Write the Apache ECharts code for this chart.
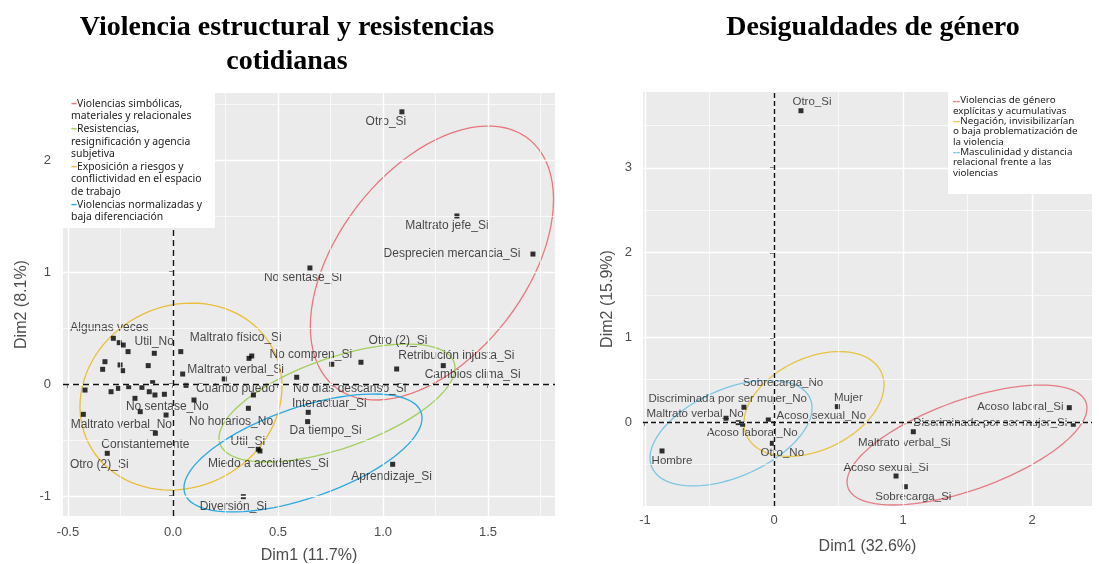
<!DOCTYPE html>
<html>
<head>
<meta charset="utf-8">
<script src="https://cdn.jsdelivr.net/npm/echarts@6/dist/echarts.min.js"></script>
<style>
html, body { margin: 0; padding: 0; background: #fff; }
#chart { width: 1099px; height: 564px; }
</style>
</head>
<body>
<div id="chart"></div>
<script>
// ---- panel 1: Violencia estructural y resistencias cotidianas ----
const leftNames = [
    'Otro_Si', 'Maltrato jefe_Si', 'Desprecien mercancia_Si', 'No sentase_Si',
    'Algunas veces', 'Util_No', 'Maltrato físico_Si', 'No compren_Si', 'Otro (2)_Si',
    'Retribución injusta_Si', 'Maltrato verbal_Si', 'Cambios clima_Si', 'Cuándo puedo',
    'No días descanso_Si', 'Interactuar_Si', 'No sentase_No', 'No horarios_No',
    'Maltrato verbal_No', 'Da tiempo_Si', 'Util_Si', 'Constantemente',
    'Miedo a accidentes_Si', 'Otro (2)_Si', 'Aprendizaje_Si', 'Diversión_Si',
    '', '', '', '', '', '', '', '', '', '', '', '', '', '', '', '', '', '', '', '', '', '', '', ''
];
const leftX = [
    1.09, 1.352, 1.714, 0.652,
    -0.284, -0.237, 0.375, 0.756, 0.895,
    1.287, 0.046, 1.065, 0.383,
    0.589, 0.644, -0.156, -0.033,
    -0.427, 0.641, 0.414, -0.084,
    0.406, -0.313, 1.046, 0.335,
    -0.256, -0.214, -0.089, 0.037, -0.324, -0.252, -0.335, -0.24, -0.118, 0.244, -0.097, 0.062,
    -0.419, -0.295, -0.26, -0.211, -0.148, -0.113, -0.086, -0.041, -0.181, 0.1, 0.359, 0.362
];
const leftY = [
    2.43, 1.50, 1.16, 1.036,
    0.408, 0.348, 0.25, 0.176, 0.194,
    0.164, 0.089, 0.134, -0.098,
    0.06, -0.253, -0.247, -0.277,
    -0.271, -0.336, -0.598, -0.44,
    -0.583, -0.619, -0.717, -1.006,
    0.369, 0.289, 0.274, 0.289, 0.199, 0.17, 0.131, 0.119, 0.164, 0.045, 0.012, -0.012,
    -0.054, -0.069, -0.039, -0.024, -0.03, -0.069, -0.098, -0.092, -0.128, -0.143, -0.217, 0.229
];
// where each text sits relative to its point (px)
const leftLabelOffsets = [
    [-16, 10], [-10, 10], [-81, 0], [-7, 10],
    [-4, -11], [31, -3], [-16, -18], [-21, -10], [37, -22],
    [13, -10], [53, -4], [76, 6], [-18, -6],
    [53, 11], [21, -9], [27, -5], [65, 7],
    [38, 10], [18, 9], [-12, -9], [-10, 11],
    [10, 14], [-8, 11], [-1, 12], [-10, 10]
];
const leftXTicks = [-0.5, 0, 0.5, 1, 1.5];
const leftXMinor = [-0.25, 0.25, 0.75, 1.25, 1.75];
const leftYTicks = [-1, 0, 1, 2];
const leftYMinor = [-0.5, 0.5, 1.5, 2.5];
// ellipses: centre and two conjugate semi-axes, in data units
const leftEllipseCenter = [[1.233, 1.080], [0.781, -0.170], [0.038, -0.112], [0.619, -0.616]];
const leftEllipseU = [[0.579, 0.567], [0.562, 0.3125], [0.481, 0.089], [0.567, 0.3125]];
const leftEllipseV = [[0, -1.084], [0, -0.424], [0, -0.83], [0, -0.424]];
const leftEllipseColors = ['#E8777B', '#A2CF5E', '#E9BE38', '#2AA9E0'];

// ---- panel 2: Desigualdades de género ----
const rightNames = [
    'Otro_Si', 'Sobrecarga_No', 'Discriminada por ser mujer_No', 'Maltrato verbal_No',
    'Acoso sexual_No', 'Acoso laboral_No', 'Otro_No', 'Hombre', 'Mujer',
    'Acoso laboral_Si', 'Discriminada por ser mujer_Si', 'Maltrato verbal_Si',
    'Acoso sexual_Si', 'Sobrecarga_Si'
];
const rightX = [0.209, -0.233, -0.243, -0.372, -0.044, -0.277, -0.013, -0.868, 0.491, 2.289, 2.32, 1.08, 0.946, 1.018];
const rightY = [3.675, 0.174, -0.027, 0.044, 0.024, -0.008, -0.252, -0.342, 0.181, 0.169, -0.027, -0.115, -0.638, -0.764];
const rightLabelOffsets = [
    [11, -9], [39, -24], [-15, -25], [-31, -4], [53, -4], [14, 10], [10, 10], [10, 10],
    [11, -9], [-49, -1], [-83, -1], [-9, 11], [-10, -8], [8, 10]
];
const rightXTicks = [-1, 0, 1, 2];
const rightXMinor = [-0.5, 0.5, 1.5];
const rightYTicks = [0, 1, 2, 3];
const rightYMinor = [-0.5, 0.5, 1.5, 2.5, 3.5];
const rightEllipseCenter = [[1.496, -0.272], [0.310, 0.2125], [-0.333, -0.130]];
const rightEllipseU = [[0.930, 0.437], [0.543, 0.224], [0.628, 0.295]];
const rightEllipseV = [[0, -0.557], [0, -0.577], [0, -0.551]];
const rightEllipseColors = ['#E57C84', '#E8C444', '#7CC6E2'];

const FONT = '"Liberation Sans", Arial, sans-serif';
const LEGEND_FONT = '"Noto Sans", sans-serif';

function axisX(grid, min, max, ticks, name, gap, margin, fmt) {
    return {
        gridIndex: grid, type: 'value', min: min, max: max,
        axisLine: { show: false },
        splitLine: { show: false },
        axisTick: { show: true, customValues: ticks, length: 4, lineStyle: { color: '#333', width: 1.5 } },
        axisLabel: { customValues: ticks, formatter: fmt, color: '#4d4d4d', fontSize: 13, fontFamily: FONT, margin: margin },
        name: name, nameLocation: 'middle', nameGap: gap,
        nameTextStyle: { fontSize: 16, color: '#4d4d4d', fontFamily: FONT },
    };
}

function axisY(grid, min, max, ticks, name, gap, margin) {
    return {
        gridIndex: grid, type: 'value', min: min, max: max,
        axisLine: { show: false },
        splitLine: { show: false },
        axisTick: { show: true, customValues: ticks, length: 4, lineStyle: { color: '#333', width: 1.5 } },
        axisLabel: { customValues: ticks, color: '#4d4d4d', fontSize: 13, fontFamily: FONT, margin: margin },
        name: name, nameLocation: 'middle', nameGap: gap,
        nameTextStyle: { fontSize: 16, color: '#4d4d4d', fontFamily: FONT },
    };
}

// white gridlines + dashed zero lines
function gridSeries(idx, xMajor, xMinor, yMajor, yMinor, dash) {
    let lines = [];
    xMinor.forEach(v => lines.push({ xAxis: v, lineStyle: { color: '#fff', width: 0.7, type: 'solid' } }));
    yMinor.forEach(v => lines.push({ yAxis: v, lineStyle: { color: '#fff', width: 0.7, type: 'solid' } }));
    xMajor.forEach(v => lines.push({ xAxis: v, lineStyle: { color: '#fff', width: 1.4, type: 'solid' } }));
    yMajor.forEach(v => lines.push({ yAxis: v, lineStyle: { color: '#fff', width: 1.4, type: 'solid' } }));
    lines.push({ xAxis: 0, lineStyle: { color: '#111', width: 1.4, type: dash } });
    lines.push({ yAxis: 0, lineStyle: { color: '#111', width: 1.4, type: dash } });
    return {
        type: 'line', xAxisIndex: idx, yAxisIndex: idx, data: [], z: 1,
        markLine: { silent: true, symbol: 'none', label: { show: false }, data: lines, animation: false },
    };
}

function ellipseSeries(idx, centers, us, vs, colors) {
    return {
        type: 'custom', xAxisIndex: idx, yAxisIndex: idx, z: 2, silent: true,
        data: centers,
        renderItem: function (params, api) {
            let c = centers[params.dataIndex], u = us[params.dataIndex], v = vs[params.dataIndex];
            let pts = [];
            for (let k = 0; k <= 90; k++) {
                let t = k / 90 * Math.PI * 2;
                pts.push(api.coord([
                    c[0] + u[0] * Math.cos(t) + v[0] * Math.sin(t),
                    c[1] + u[1] * Math.cos(t) + v[1] * Math.sin(t),
                ]));
            }
            return {
                type: 'polyline', shape: { points: pts },
                style: { stroke: colors[params.dataIndex], fill: 'none', lineWidth: 1.3 },
            };
        },
    };
}

function pointSeries(idx, names, xs, ys, offsets, fontSize) {
    return {
        type: 'scatter', xAxisIndex: idx, yAxisIndex: idx, z: 3,
        symbol: 'rect', symbolSize: 5,
        itemStyle: { color: '#000' },
        data: names.map((n, i) => ({
            name: n,
            value: [xs[i], ys[i]],
            label: offsets[i] ? {
                show: true, position: 'inside', offset: offsets[i],
                formatter: '{b}', color: '#1a1a1a', fontSize: fontSize, fontFamily: FONT,
            } : { show: false },
        })),
    };
}

function legendText(lines, colors, fontSize, lineHeight) {
    let rich = {};
    colors.forEach((c, i) => {
        rich['c' + i] = { fill: c, fontSize: fontSize + 1.5, lineHeight: lineHeight, fontFamily: LEGEND_FONT, fontWeight: 'bold' };
    });
    return { text: lines.join('\n'), rich: rich };
}

const leftLegend = legendText([
    '{c0|–}Violencias simbólicas,', 'materiales y relacionales',
    '{c1|–}Resistencias,', 'resignificación y agencia', 'subjetiva',
    '{c2|–}Exposición a riesgos y', 'conflictividad en el espacio', 'de trabajo',
    '{c3|–}Violencias normalizadas y', 'baja diferenciación',
], leftEllipseColors, 10.4, 12.6);

const rightLegend = legendText([
    '{c0|--}Violencias de género', 'explícitas y acumulativas',
    '{c1|--}Negación, invisibilizarían', 'o baja problematización de', 'la violencia',
    '{c2|--}Masculinidad y distancia', 'relacional frente a las', 'violencias',
], rightEllipseColors, 9.8, 10.3);

const chart = echarts.init(document.getElementById('chart'));
chart.setOption({
    animation: false,
    backgroundColor: '#fff',
    grid: [
        { left: 63, top: 93, width: 492, height: 423, show: true, backgroundColor: '#EBEBEB', borderWidth: 0, outerBoundsMode: 'none', containLabel: false },
        { left: 643, top: 92, width: 449, height: 414, show: true, backgroundColor: '#EBEBEB', borderWidth: 0, outerBoundsMode: 'none', containLabel: false },
    ],
    xAxis: [
        axisX(0, -0.5238, 1.819, leftXTicks, 'Dim1 (11.7%)', 32, 10, v => v.toFixed(1)),
        axisX(1, -1.0155, 2.465, rightXTicks, 'Dim1 (32.6%)', 33, 8, v => String(v)),
    ],
    yAxis: [
        axisY(0, -1.1786, 2.598, leftYTicks, 'Dim2 (8.1%)', 33, 12),
        axisY(1, -0.992, 3.896, rightYTicks, 'Dim2 (15.9%)', 27, 11),
    ],
    graphic: [
        {
            type: 'text', z: 10,
            style: {
                x: 287, y: 45, text: 'Violencia estructural y resistencias\ncotidianas',
                align: 'center', verticalAlign: 'middle',
                font: 'bold 28px "Liberation Serif", "Times New Roman", serif', lineHeight: 34, fill: '#000',
            },
        },
        {
            type: 'text', z: 10,
            style: {
                x: 873, y: 28, text: 'Desigualdades de género',
                align: 'center', verticalAlign: 'middle',
                font: 'bold 28px "Liberation Serif", "Times New Roman", serif', fill: '#000',
            },
        },
        { type: 'rect', z: 20, shape: { x: 63, y: 93, width: 152, height: 135 }, style: { fill: '#fff' } },
        {
            type: 'text', z: 21,
            style: {
                x: 71, y: 97.5, text: leftLegend.text, rich: leftLegend.rich,
                fontSize: 10.4, lineHeight: 12.6, fontFamily: LEGEND_FONT, fill: '#222',
            },
        },
        { type: 'rect', z: 20, shape: { x: 948, y: 92, width: 144, height: 102 }, style: { fill: '#fff' } },
        {
            type: 'text', z: 21,
            style: {
                x: 953, y: 95.5, text: rightLegend.text, rich: rightLegend.rich,
                fontSize: 9.8, lineHeight: 10.3, fontFamily: LEGEND_FONT, fill: '#222',
            },
        },
    ],
    series: [
        gridSeries(0, leftXTicks, leftXMinor, leftYTicks, leftYMinor, [6, 4]),
        gridSeries(1, rightXTicks, rightXMinor, rightYTicks, rightYMinor, [5, 3]),
        ellipseSeries(0, leftEllipseCenter, leftEllipseU, leftEllipseV, leftEllipseColors),
        ellipseSeries(1, rightEllipseCenter, rightEllipseU, rightEllipseV, rightEllipseColors),
        pointSeries(0, leftNames, leftX, leftY, leftLabelOffsets, 12),
        pointSeries(1, rightNames, rightX, rightY, rightLabelOffsets, 11.5),
    ],
});
window.addEventListener('resize', chart.resize);
</script>
</body>
</html>
